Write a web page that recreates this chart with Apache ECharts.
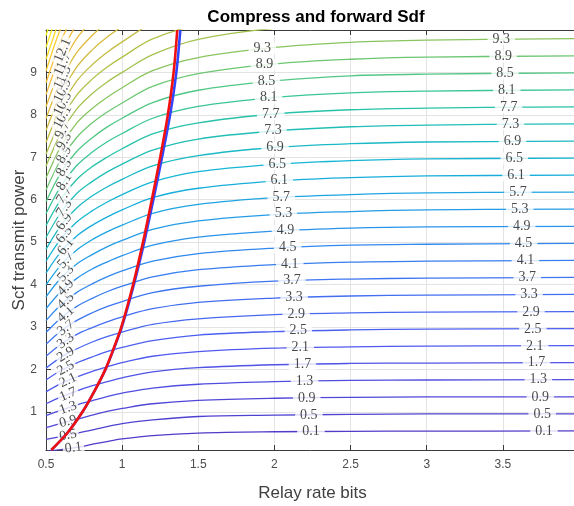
<!DOCTYPE html>
<html><head><meta charset="utf-8">
<script src="https://cdn.jsdelivr.net/npm/echarts@6/dist/echarts.min.js"></script>
<style>html,body{margin:0;padding:0;background:#fff}#c{width:574px;height:506px}</style>
</head><body><div id="c"></div>
<script>
// ---- data ----
const xGrid = [0.5, 0.6, 0.7, 0.8, 0.9, 1.0, 1.2, 1.5, 2.0, 2.5, 3.0, 4.0];
const levels = [0.1,0.5,0.9,1.3,1.7,2.1,2.5,2.9,3.3,3.7,4.1,4.5,4.9,5.3,5.7,6.1,6.5,6.9,7.3,7.7,8.1,8.5,8.9,9.3,9.7,10.1,10.5,10.9,11.3,11.7,12.1,12.5,12.9,13.3,13.7,14.1];
const contourY = [
 [0.07,0.11,0.16,0.23,0.30,0.36,0.44,0.50,0.53,0.54,0.545,0.55],
 [0.35,0.42,0.49,0.57,0.65,0.72,0.81,0.89,0.92,0.94,0.95,0.95],
 [0.63,0.73,0.82,0.92,1.01,1.08,1.19,1.27,1.32,1.34,1.35,1.35],
 [0.91,1.04,1.16,1.26,1.36,1.44,1.56,1.65,1.71,1.74,1.75,1.76],
 [1.19,1.35,1.49,1.61,1.71,1.80,1.94,2.04,2.11,2.14,2.15,2.16],
 [1.47,1.67,1.82,1.95,2.06,2.16,2.31,2.42,2.50,2.53,2.55,2.56],
 [1.75,1.98,2.15,2.29,2.42,2.52,2.68,2.81,2.89,2.93,2.95,2.96],
 [2.03,2.29,2.48,2.64,2.77,2.88,3.06,3.19,3.29,3.33,3.35,3.36],
 [2.31,2.60,2.82,2.98,3.12,3.24,3.43,3.58,3.68,3.73,3.75,3.77],
 [2.59,2.91,3.15,3.33,3.48,3.60,3.81,3.96,4.08,4.13,4.15,4.17],
 [2.87,3.22,3.48,3.67,3.83,3.96,4.18,4.35,4.47,4.53,4.55,4.57],
 [3.15,3.53,3.81,4.01,4.18,4.32,4.55,4.73,4.86,4.93,4.95,4.97],
 [3.43,3.84,4.14,4.36,4.53,4.68,4.93,5.12,5.26,5.33,5.36,5.37],
 [3.71,4.16,4.48,4.70,4.89,5.04,5.30,5.50,5.65,5.72,5.76,5.78],
 [3.99,4.47,4.81,5.05,5.24,5.40,5.68,5.89,6.05,6.12,6.16,6.18],
 [4.27,4.78,5.14,5.39,5.59,5.76,6.05,6.27,6.44,6.52,6.56,6.58],
 [4.55,5.09,5.47,5.73,5.94,6.12,6.42,6.66,6.83,6.92,6.96,6.98],
 [4.83,5.40,5.80,6.08,6.30,6.48,6.80,7.04,7.23,7.32,7.36,7.38],
 [5.11,5.71,6.14,6.42,6.65,6.84,7.17,7.43,7.62,7.72,7.76,7.79],
 [5.39,6.02,6.47,6.77,7.00,7.20,7.55,7.81,8.02,8.12,8.16,8.19],
 [5.67,6.33,6.80,7.11,7.36,7.56,7.92,8.20,8.41,8.52,8.56,8.59],
 [5.95,6.65,7.13,7.45,7.71,7.92,8.29,8.58,8.80,8.92,8.96,8.99],
 [6.23,6.96,7.46,7.80,8.06,8.28,8.67,8.97,9.20,9.31,9.36,9.39],
 [6.51,7.27,7.80,8.14,8.41,8.64,9.04,9.35,9.59,9.71,9.76,9.80],
 [6.79,7.58,8.13,8.49,8.77,9.00,9.42,9.78,10.04,10.12,10.16,10.20],
 [7.07,7.89,8.46,8.83,9.12,9.36,9.79,10.12,10.38],
 [7.35,8.20,8.79,9.17,9.47,9.72,10.16,10.50],
 [7.63,8.51,9.12,9.52,9.83,10.08,10.54],
 [7.91,8.82,9.46,9.86,10.18,10.44],
 [8.19,9.13,9.79,10.21,10.53],
 [8.47,9.45,10.12,10.55],
 [8.75,9.76,10.45],
 [9.03,10.07,10.78],
 [9.31,10.38],
 [9.59,10.69],
 [9.87,11.00]
];
// contour label anchors (data coordinates)
const leftLabelX = [0.68,0.645,0.645,0.645,0.645,0.645,0.63,0.63,0.63,0.63,0.63,0.63,0.63,0.63,0.63,0.63,0.62,0.62,0.62,0.62,0.62,0.62,0.62,0.62,0.61,0.61,0.61,0.61,0.61,0.61,0.61];
const leftLabelY = [0.15,0.45,0.77,1.09,1.41,1.74,2.03,2.35,2.67,2.98,3.30,3.61,3.93,4.26,4.57,4.89,5.17,5.48,5.80,6.11,6.42,6.75,7.06,7.38,7.64,7.95,8.26,8.57,8.88,9.20,9.52];
const midLabelX = [2.24,2.226,2.212,2.198,2.184,2.17,2.157,2.143,2.129,2.115,2.101,2.087,2.073,2.059,2.045,2.032,2.018,2.004,1.99,1.976,1.962,1.948,1.934,1.92];
const midLabelY = [0.535,0.927,1.328,1.72,2.12,2.51,2.91,3.30,3.70,4.09,4.48,4.88,5.27,5.67,6.06,6.45,6.84,7.23,7.63,8.01,8.41,8.79,9.19,9.57];
const rightLabelX = [3.77,3.758,3.746,3.733,3.721,3.709,3.697,3.685,3.672,3.66,3.648,3.636,3.624,3.611,3.599,3.587,3.575,3.563,3.55,3.538,3.526,3.514,3.502,3.49];
const rightLabelY = [0.55,0.95,1.35,1.755,2.155,2.555,2.955,3.355,3.76,4.16,4.56,4.96,5.365,5.77,6.17,6.57,6.97,7.37,7.775,8.175,8.575,8.975,9.375,9.78];
// boundary curves
const redY  = [0.1, 0.5, 1, 1.5, 2, 2.5, 3, 4, 5, 6, 7, 8, 9, 10];
const redX  = [0.535,0.64,0.74,0.82,0.89,0.945,0.995,1.072,1.137,1.195,1.25,1.30,1.338,1.362];
const blueX = [0.535,0.64,0.74,0.82,0.891,0.947,0.998,1.077,1.145,1.205,1.262,1.315,1.356,1.382];
const yTicks = [1,2,3,4,5,6,7,8,9];

// ---- styling ----
const stops = [[0,[80,60,200]],[0.15,[80,90,240]],[0.27,[60,120,240]],[0.35,[40,150,235]],[0.45,[20,180,215]],[0.55,[40,195,165]],[0.62,[100,200,120]],[0.68,[160,195,80]],[0.78,[215,185,60]],[0.88,[250,190,55]],[1,[248,245,25]]];
function colorFor(c){
  const t = Math.max(0, Math.min(1, (c - levels[0]) / (levels[levels.length-1] - levels[0])));
  for (let i = 1; i < stops.length; i++) {
    if (t <= stops[i][0]) {
      const a = stops[i-1], b = stops[i], f = (t - a[0]) / (b[0] - a[0]);
      const rgb = a[1].map((v, j) => Math.round(v + (b[1][j] - v) * f));
      return 'rgb(' + rgb.join(',') + ')';
    }
  }
  return 'rgb(248,245,25)';
}
const AX = '#3a3a3a';
const chart = echarts.init(document.getElementById('c'), null, {renderer: 'canvas'});

const contourSeries = levels.map((c, i) => ({
  type: 'line', silent: true, symbol: 'none', smooth: 0.35, clip: true,
  data: contourY[i].map((y, j) => [xGrid[j], y]),
  lineStyle: {color: colorFor(c), width: 1.3}, z: 2
}));

const labelBase = {show: true, position: 'inside', formatter: '{b}', fontFamily: 'Liberation Serif', fontSize: 14, color: '#1a1a1a', backgroundColor: '#ffffff', lineHeight: 12};
function labelSeries(xs, ys, rot, pad) {
  return {
    type: 'scatter', silent: true, symbol: 'circle', symbolSize: 1, z: 3,
    itemStyle: {color: 'rgba(0,0,0,0)'},
    label: Object.assign({}, labelBase, {padding: pad}),
    data: xs.map((x, k) => {
      const it = {name: levels[k].toFixed(1), value: [x, ys[k]]};
      if (rot) it.label = {rotate: rot[k]};
      return it;
    })
  };
}

const option = {
  animation: false,
  backgroundColor: '#ffffff',
  title: {text: 'Compress and forward Sdf', left: 311, top: 4, textAlign: 'center',
    textStyle: {fontSize: 17, fontWeight: 'bold', color: '#000', fontFamily: 'Liberation Sans'}},
  grid: {left: 46, right: -5, top: 30, bottom: 56, outerBoundsMode: 'none', containLabel: false},
  xAxis: [{
    type: 'value', min: 0.5, max: 4, interval: 0.5, position: 'bottom',
    axisLine: {show: true, onZero: false, lineStyle: {color: AX}},
    axisTick: {show: true, inside: true, length: 5, lineStyle: {color: AX}},
    axisLabel: {color: '#4d4d4d', fontSize: 12, margin: 9, fontFamily: 'Liberation Sans', showMaxLabel: false},
    splitLine: {show: true, lineStyle: {color: '#e3e3e3'}},
    name: 'Relay rate bits', nameLocation: 'middle', nameGap: 35, nameMoveOverlap: false,
    nameTextStyle: {fontSize: 17, color: '#404040', fontFamily: 'Liberation Sans'}
  }, {
    type: 'value', min: 0.5, max: 4, interval: 0.5, position: 'top',
    axisLine: {show: true, onZero: false, lineStyle: {color: AX}},
    axisTick: {show: true, inside: true, length: 5, lineStyle: {color: AX}},
    axisLabel: {show: false}, splitLine: {show: false}
  }],
  yAxis: [{
    type: 'value', min: 0.1, max: 10,
    axisLine: {show: true, onZero: false, lineStyle: {color: AX}},
    axisTick: {show: true, inside: true, length: 5, customValues: yTicks, lineStyle: {color: AX}},
    axisLabel: {customValues: yTicks, color: '#4d4d4d', fontSize: 12, margin: 9, fontFamily: 'Liberation Sans'},
    splitLine: {show: true, lineStyle: {color: '#e3e3e3'}},
    name: 'Scf transmit power', nameLocation: 'middle', nameGap: 18, nameMoveOverlap: false,
    nameTextStyle: {fontSize: 17, color: '#404040', fontFamily: 'Liberation Sans'}
  }],
  series: contourSeries.concat([
    {type: 'line', silent: true, symbol: 'none', smooth: 0.3, clip: true, z: 4,
     data: blueX.map((x, i) => [x, redY[i]]), lineStyle: {color: '#3344ff', width: 2.6}},
    {type: 'line', silent: true, symbol: 'none', smooth: 0.3, clip: true, z: 5,
     data: redX.map((x, i) => [x, redY[i]]), lineStyle: {color: '#f01010', width: 2.6}}
  ])
};
chart.setOption(option);

// rotation of left labels follows the local pixel slope of each contour
const leftRot = leftLabelX.map((x, k) => {
  const p0 = chart.convertToPixel({xAxisIndex: 0, yAxisIndex: 0}, [xGrid[0], contourY[k][0]]);
  const p1 = chart.convertToPixel({xAxisIndex: 0, yAxisIndex: 0}, [xGrid[2], contourY[k][2]]);
  return Math.atan2(p0[1] - p1[1], p1[0] - p0[0]) * 180 / Math.PI;
});
option.series = option.series.concat([
  labelSeries(leftLabelX, leftLabelY, leftRot, [0, 2]),
  labelSeries(midLabelX, midLabelY, null, [0, 5]),
  labelSeries(rightLabelX, rightLabelY, null, [0, 5])
]);
chart.setOption(option, true);
</script></body></html>
